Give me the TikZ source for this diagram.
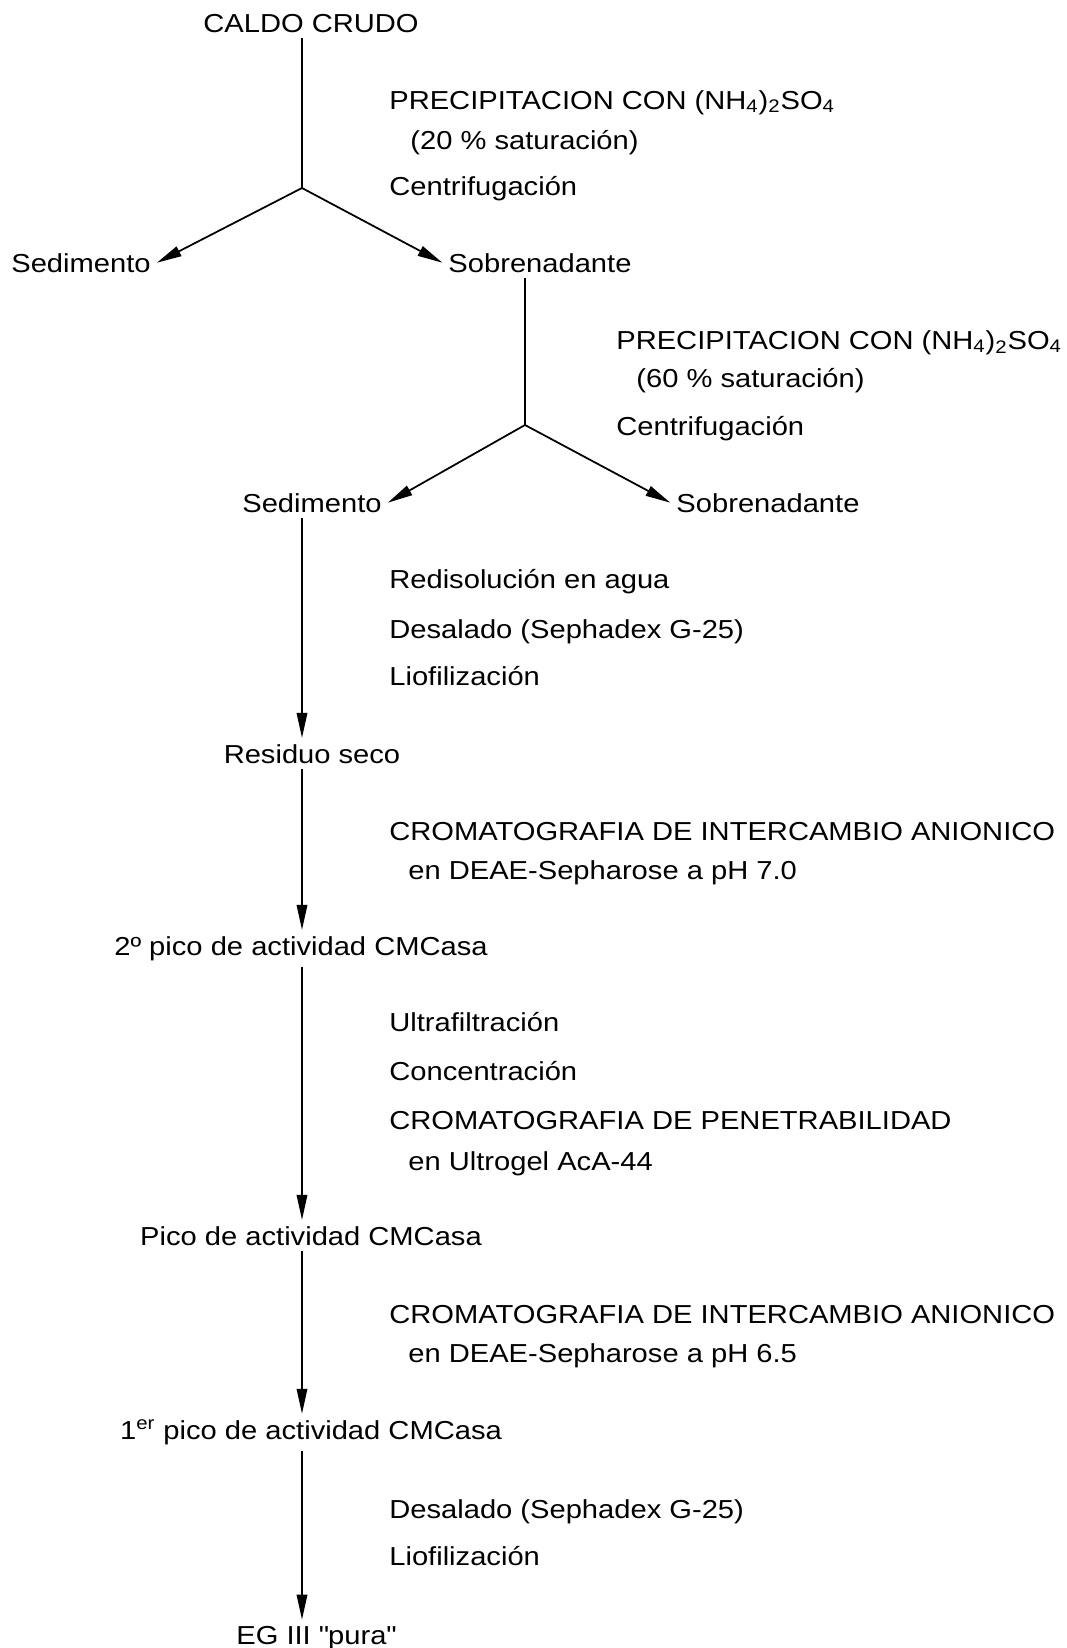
\documentclass[tikz,border=0pt]{standalone}
\usepackage{fontspec}
\setmainfont{Liberation Sans}[FakeStretch=1.12]
\usetikzlibrary{arrows.meta}

\tikzset{
	etapa/.style={anchor=base,font=\fontsize{14.8}{17}\selectfont},
	paso/.style={anchor=base west,inner sep=0pt,font=\fontsize{14.8}{17}\selectfont},
	flecha/.style={-{Triangle[length=5mm,width=2.1mm]},line width=1pt},
	linea/.style={line width=1pt}
}

\begin{document}
\begin{tikzpicture}
				\useasboundingbox (0,0) rectangle (21.32,-32.96);
				
				\node[etapa] (caldo) at (6.22,-0.64) {CALDO CRUDO};
				\node[etapa] (sed1) at (1.62,-5.44) {Sedimento};
				\node[etapa] (sob1) at (10.80,-5.44) {Sobrenadante};
				\node[etapa] (sed2) at (6.24,-10.24) {Sedimento};
				\node[etapa] (sob2) at (15.36,-10.24) {Sobrenadante};
				\node[etapa] (residuo) at (6.24,-15.26) {Residuo seco};
				\node[etapa] (pico2) at (6.02,-19.10) {2º pico de actividad CMCasa};
				\node[etapa] (pico) at (6.22,-24.90) {Pico de actividad CMCasa};
				\node[etapa] (pico1) at (6.22,-28.78) {1\textsuperscript{er} pico de actividad CMCasa};
				\node[etapa] (eg) at (6.32,-32.88) {EG III \textquotedbl pura\textquotedbl};
				
				\coordinate (col) at (6.04,0);
				\coordinate (split1) at (6.04,-3.76);
				\coordinate (split2) at (10.50,-8.50);
				
				\draw[linea] (caldo.south -| col) -- (split1);
				\draw[flecha] (split1) -- (sed1.east);
				\draw[flecha] (split1) -- (sob1.west);
				
				\draw[linea] (sob1.south -| split2) -- (split2);
				\draw[flecha] (split2) -- (sed2.east);
				\draw[flecha] (split2) -- (sob2.west);
				
				\draw[flecha] (sed2.south -| col) -- (residuo.north -| col);
				\draw[flecha] (residuo.south -| col) -- (pico2.north -| col);
				\draw[flecha] (pico2.south -| col) -- (pico.north -| col);
				\draw[flecha] (pico.south -| col) -- (pico1.north -| col);
				\draw[flecha] (pico1.south -| col) -- (eg.north -| col);
				
				\node[paso] (prec1) at (7.78,-2.18) {PRECIPITACION CON (NH\textsubscript{4})\textsubscript{2}SO\textsubscript{4}};
				\node[paso] (sat1) at (8.20,-2.98) {(20 \% saturación)};
				\node[paso] (cent1) at (7.78,-3.90) {Centrifugación};
				
				\node[paso] (prec2) at (12.32,-6.98) {PRECIPITACION CON (NH\textsubscript{4})\textsubscript{2}SO\textsubscript{4}};
				\node[paso] (sat2) at (12.72,-7.74) {(60 \% saturación)};
				\node[paso] (cent2) at (12.32,-8.70) {Centrifugación};
				
				\node[paso] (redis) at (7.78,-11.76) {Redisolución en agua};
				\node[paso] (desal1) at (7.78,-12.76) {Desalado (Sephadex G-25)};
				\node[paso] (liof1) at (7.78,-13.70) {Liofilización};
				
				\node[paso] (crom1) at (7.78,-16.80) {CROMATOGRAFIA DE INTERCAMBIO ANIONICO};
				\node[paso] (deae1) at (8.16,-17.58) {en DEAE-Sepharose a pH 7.0};
				
				\node[paso] (ultra) at (7.78,-20.62) {Ultrafiltración};
				\node[paso] (conc) at (7.78,-21.60) {Concentración};
				\node[paso] (crom2) at (7.78,-22.58) {CROMATOGRAFIA DE PENETRABILIDAD};
				\node[paso] (ultrogel) at (8.16,-23.40) {en Ultrogel AcA-44};
				
				\node[paso] (crom3) at (7.78,-26.46) {CROMATOGRAFIA DE INTERCAMBIO ANIONICO};
				\node[paso] (deae2) at (8.16,-27.24) {en DEAE-Sepharose a pH 6.5};
				
				\node[paso] (desal2) at (7.78,-30.36) {Desalado (Sephadex G-25)};
				\node[paso] (liof2) at (7.78,-31.30) {Liofilización};
				
			\end{tikzpicture}
\end{document}
